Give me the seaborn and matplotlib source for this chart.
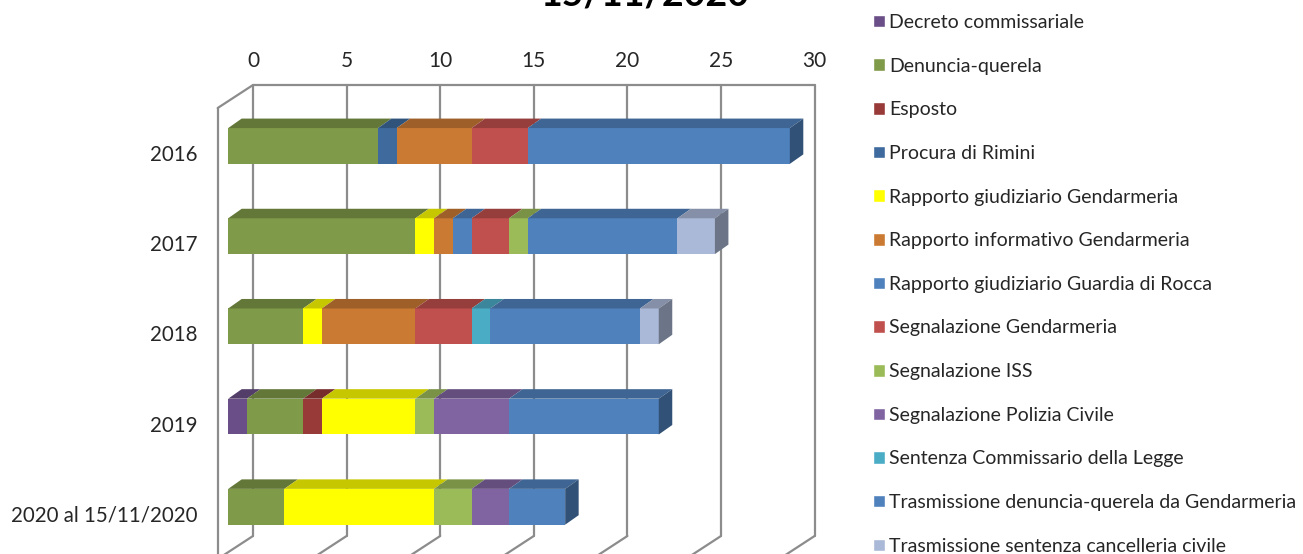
import numpy as np
import pandas as pd
import matplotlib
matplotlib.use("Agg")
import matplotlib.pyplot as plt
import seaborn as sns
from matplotlib.colors import to_rgb
from matplotlib.patches import Patch, Polygon
from matplotlib.transforms import ScaledTranslation

anni = ["2016", "2017", "2018", "2019", "2020 al 15/11/2020"]

decreto = [0, 0, 0, 1, 0]
denuncia = [8, 10, 4, 3, 3]
esposto = [0, 0, 0, 1, 0]
procura = [1, 0, 0, 0, 0]
rapp_giud_gend = [0, 1, 1, 5, 8]
rapp_info_gend = [4, 1, 5, 0, 0]
rapp_guardia = [0, 1, 0, 0, 0]
segn_gend = [3, 2, 3, 0, 0]
segn_iss = [0, 1, 0, 1, 2]
segn_polizia = [0, 0, 0, 4, 2]
sentenza = [0, 0, 1, 0, 0]
trasm_denuncia = [14, 8, 8, 8, 3]
trasm_sentenza = [0, 2, 1, 0, 0]

serie = {
    "Decreto commissariale": decreto,
    "Denuncia-querela": denuncia,
    "Esposto": esposto,
    "Procura di Rimini": procura,
    "Rapporto giudiziario Gendarmeria": rapp_giud_gend,
    "Rapporto informativo Gendarmeria": rapp_info_gend,
    "Rapporto giudiziario Guardia di Rocca": rapp_guardia,
    "Segnalazione Gendarmeria": segn_gend,
    "Segnalazione ISS": segn_iss,
    "Segnalazione Polizia Civile": segn_polizia,
    "Sentenza Commissario della Legge": sentenza,
    "Trasmissione denuncia-querela da Gendarmeria": trasm_denuncia,
    "Trasmissione sentenza cancelleria civile": trasm_sentenza,
}
colori = ["#6A4E87", "#7F9A48", "#983A37", "#3E6A9E", "#FFFF00", "#CB7A33", "#4F81BD",
          "#C0504D", "#9BBB59", "#8064A2", "#4BACC6", "#4F81BD", "#AAB9D7"]

sns.set_theme(style="white")
plt.rcParams["font.family"] = ["Lato", "DejaVu Sans"]

W, H = 1303, 554
scala = 18.72
fig = plt.figure(figsize=(W / 100, H / 100), dpi=100)
# piano frontale: 0 a 228.2 px, parete da y=85 a y=536
ax = fig.add_axes([228.2 / W, 1 - 536 / H, 30 * scala / W, (536 - 85) / H])


def scurisci(col, f):
    return tuple(c * f for c in to_rgb(col))


# profondita finta 3D, in unita dei dati
dx_bar, dy_bar = 13.5 / scala, 9.5 / 90.2
dx_par, dy_par = 24.8 / scala, 23 / 90.2
x_sin = -10.5 / scala
alt = 0.397
ylim = (4.324, -0.676)

# pareti
griglia = "#8C8C8C"
for t in range(0, 35, 5):
    xb = t + dx_par
    ax.plot([xb, xb], ylim, color=griglia, lw=1.6, clip_on=False, zorder=1)
    ax.plot([xb, t + x_sin], [ylim[0], ylim[0] + dy_par], color=griglia, lw=1.6, clip_on=False, zorder=1)
ax.plot([dx_par, 30 + dx_par], [ylim[1], ylim[1]], color=griglia, lw=1.6, clip_on=False, zorder=1)
ax.plot([dx_par, x_sin], [ylim[1], ylim[1] + dy_par], color=griglia, lw=1.6, clip_on=False, zorder=1)
ax.plot([x_sin, x_sin], [ylim[1] + dy_par, ylim[0] + dy_par], color=griglia, lw=1.6, clip_on=False, zorder=1)

# barre impilate
base = np.zeros(len(anni))
ultimo = np.array([-1] * len(anni))
for k, (nome, valori) in enumerate(serie.items()):
    valori = np.array(valori, dtype=float)
    df = pd.DataFrame({"anno": anni, "n": valori})
    sns.barplot(data=df, x="n", y="anno", order=anni, orient="h", left=base, color=colori[k],
                saturation=1, width=alt, errorbar=None, ax=ax, zorder=3, linewidth=0)
    for i, v in enumerate(valori):
        if v > 0:
            y0 = i - alt / 2
            x0, x1 = base[i], base[i] + v
            ax.add_patch(Polygon([(x0, y0), (x1, y0), (x1 + dx_bar, y0 - dy_bar), (x0 + dx_bar, y0 - dy_bar)],
                                 facecolor=scurisci(colori[k], 0.78), lw=0, clip_on=False, zorder=3))
            ultimo[i] = k
    base = base + valori

# fianco destro, colore dell'ultimo pezzo
for i, k in enumerate(ultimo):
    y0, y1 = i - alt / 2, i + alt / 2
    x1 = base[i]
    ax.add_patch(Polygon([(x1, y0), (x1 + dx_bar, y0 - dy_bar), (x1 + dx_bar, y1 - dy_bar), (x1, y1)],
                         facecolor=scurisci(colori[k], 0.63), lw=0, clip_on=False, zorder=3))

ax.set_xlim(0, 30)
ax.set_ylim(*ylim)
ax.set_xlabel("")
ax.set_ylabel("")
ax.xaxis.tick_top()
ax.set_xticks(range(0, 35, 5))
ax.tick_params(axis="x", length=0, pad=10, labelsize=15, labelcolor="#262626")
ax.tick_params(axis="y", length=0, pad=22, labelsize=14.8, labelcolor="#262626")
sns.despine(ax=ax, left=True, bottom=True, top=True, right=True)
ax.patch.set_alpha(0)

# etichette allineate alla parete di fondo
sposta = ScaledTranslation(24.8 / 100, 0, fig.dpi_scale_trans)
for lab in ax.get_xticklabels():
    lab.set_transform(lab.get_transform() + sposta)
giu = ScaledTranslation(0, -7 / 100, fig.dpi_scale_trans)
for lab in ax.get_yticklabels():
    lab.set_transform(lab.get_transform() + giu)

maniglie = [Patch(facecolor=c, label=n) for n, c in zip(serie, colori)]
fig.legend(handles=maniglie, loc="upper left", bbox_to_anchor=(873 / W, 1 - 14 / H), frameon=False,
           fontsize=14, labelcolor="#262626", handlelength=0.62, handleheight=0.62, handletextpad=0.2,
           labelspacing=1.37, borderpad=0, borderaxespad=0)

fig.text(645 / W, 1 - 5.5 / H, "15/11/2020", ha="center", va="baseline", fontsize=27, fontweight="bold", color="black")

fig.savefig("out.png", dpi=100)
